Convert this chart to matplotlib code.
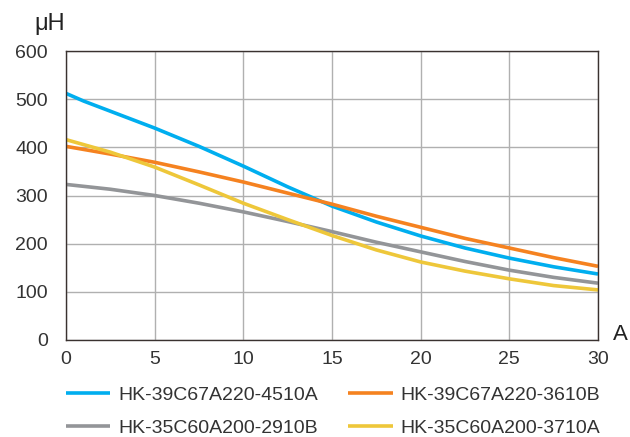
import matplotlib
matplotlib.use("Agg")
import matplotlib.pyplot as plt

plt.rcParams['font.family'] = ['Liberation Sans', 'DejaVu Sans']

corrente = [0, 2.5, 5, 7.5, 10, 12.5, 15, 17.5, 20, 22.5, 25, 27.5, 30]
azul_x = [0, 1, 2.5, 5, 7.5, 10, 12.5, 15, 17.5, 20, 22.5, 25, 27.5, 30]
azul = [512, 496, 475, 440, 402, 361, 318, 278, 245, 216, 191, 170, 152, 137]
laranja = [402, 386, 369, 349, 328, 305, 282, 257, 234, 211, 191, 171, 153]
cinza = [323, 313, 300, 284, 266, 246, 225, 203, 183, 163, 145, 130, 118]
amarelo = [416, 390, 359, 322, 284, 250, 217, 187, 162, 143, 127, 113, 104]

nomes = ["HK-39C67A220-4510A", "HK-39C67A220-3610B",
         "HK-35C60A200-2910B", "HK-35C60A200-3710A"]
cores = ["#00AEEF", "#F58220", "#939598", "#EEC73A"]

fig = plt.figure(figsize=(6.3, 4.37), dpi=100)
ax = fig.add_axes([66/630, 1-340/437, 532/630, 289/437])

l1, = ax.plot(azul_x, azul, color=cores[0], lw=2.6, solid_capstyle='butt')
l2, = ax.plot(corrente, laranja, color=cores[1], lw=2.6, solid_capstyle='butt')
l3, = ax.plot(corrente, cinza, color=cores[2], lw=2.6, solid_capstyle='butt')
l4, = ax.plot(corrente, amarelo, color=cores[3], lw=2.6, solid_capstyle='butt')

ax.set_xlim(0, 30)
ax.set_ylim(0, 600)
ax.set_xticks(range(0, 31, 5))
ax.set_yticks(range(0, 601, 100))
ax.grid(True, color="#b0b0b0", lw=1)
ax.set_axisbelow(True)
ax.tick_params(length=0, labelsize=14, colors="#333333")
ax.tick_params(axis='y', pad=13)
ax.tick_params(axis='x', pad=8)
for s in ax.spines.values():
    s.set_color("#3a3230")
    s.set_linewidth(1)

fig.text(50/630, 1-24/437, "μH", fontsize=17, color="#222222", ha="center", va="center")
fig.text(620/630, 1-334/437, "A", fontsize=16, color="#222222", ha="center", va="center")

# ordem: preenche por coluna, entao intercala
leg = fig.legend([l1, l3, l2, l4], [nomes[0], nomes[2], nomes[1], nomes[3]],
                 loc="upper left", bbox_to_anchor=(48/630, 1-369/437), ncol=2,
                 frameon=False, fontsize=14, handlelength=2.3, columnspacing=1.55,
                 labelspacing=0.78, handletextpad=0.4)
for t in leg.get_texts():
    t.set_color("#333333")

fig.savefig("out.png", dpi=100)
